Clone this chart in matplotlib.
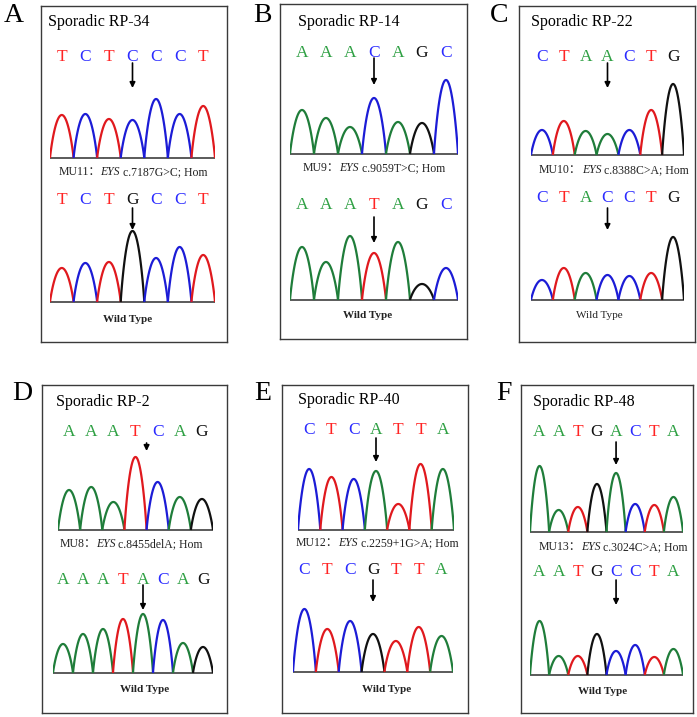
import numpy as np
import matplotlib.pyplot as plt
from matplotlib.offsetbox import TextArea, HPacker, AnnotationBbox

plt.rcParams['font.family'] = ['Liberation Serif', 'Noto Sans CJK SC']

# ---- data ----
panel_labels = ['A', 'B', 'C', 'D', 'E', 'F']
titles = ['Sporadic RP-34', 'Sporadic RP-14', 'Sporadic RP-22',
          'Sporadic RP-2', 'Sporadic RP-40', 'Sporadic RP-48']
mut_codes = ['MU11', 'MU9', 'MU10', 'MU8', 'MU12', 'MU13']
mut_changes = ['c.7187G>C; Hom', 'c.9059T>C; Hom', 'c.8388C>A; Hom',
               'c.8455delA; Hom', 'c.2259+1G>A; Hom', 'c.3024C>A; Hom']

# mutant traces (upper chromatogram)
mut_seqs = ['TCTCCCT', 'AAACAGC', 'CTAACTG', 'AAATCAG', 'CTCATTA', 'AATGACTA']
mut_heights = [
    [43, 44, 39, 38, 59, 44, 52],
    [44, 36, 27, 56, 32, 31, 74],
    [25, 34, 24, 21, 25, 45, 71],
    [40, 43, 28, 73, 48, 33, 31],
    [61, 53, 51, 59, 26, 66, 61],
    [66, 22, 25, 48, 59, 28, 27, 35],
]
mut_arrow = [3, 3, 3, 3.5, 3, 4]

# wild type traces (lower chromatogram)
wt_seqs = ['TCTGCCT', 'AAATAGC', 'CTACCTG', 'AAATACAG', 'CTCGTTA', 'AATGCCTA']
wt_heights = [
    [34, 39, 40, 71, 44, 55, 47],
    [53, 38, 64, 47, 58, 16, 32],
    [20, 32, 27, 25, 24, 27, 63],
    [29, 39, 44, 54, 59, 53, 30, 26],
    [63, 43, 51, 38, 31, 45, 36],
    [54, 19, 19, 41, 24, 30, 18, 26],
]
wt_arrow = [3, 3, 3, 4, 3, 4]
wt_bold = [True, True, False, True, True, True]

# ---- layout (pixels) ----
W, H = 697, 717
boxes = [(41, 6, 227, 342), (280, 4, 467, 339), (519, 6, 695, 342),
         (42, 385, 227, 713), (282, 385, 468, 713), (521, 385, 693, 713)]
label_xy = [(14, 16), (262, 15), (499, 15), (22, 394), (263, 394), (504, 394)]
title_xy = [(48, 22), (298, 22), (531, 22), (56, 402), (298, 400), (533, 402)]
mut_xy = [(133, 172), (374, 168), (614, 170), (131, 544), (377, 543), (613, 547)]
wt_xy = [(128, 319), (368, 315), (599, 315), (145, 689), (387, 689), (603, 692)]

top_geo = [(50, 215, 158, 57, 63, 88), (290, 458, 154, 53, 58, 85),
           (531, 684, 155, 57, 63, 88), (58, 213, 530, 432, 443, 451),
           (298, 454, 530, 430, 438, 462), (530, 683, 532, 432, 442, 465)]
bot_geo = [(50, 215, 302, 200, 208, 230), (290, 458, 300, 205, 217, 243),
           (531, 684, 300, 198, 208, 230), (53, 213, 673, 580, 585, 610),
           (293, 453, 672, 570, 580, 602), (530, 683, 675, 572, 580, 605)]

trace_col = {'A': '#1f7d3a', 'C': '#1c1cd6', 'G': '#111111', 'T': '#e0191e'}
text_col = {'A': '#2ea043', 'C': '#2b2bff', 'G': '#111111', 'T': '#ff2424'}


def fx(x):
    return x / W


def fy(y):
    return 1 - y / H


def chromatogram(fig, geo, seq, heights, arrow_at):
    x0, x1, base, let_y, ar_top, ar_bot = geo
    n = len(seq)
    top = let_y - 12
    ax = fig.add_axes([fx(x0), fy(base + 3), fx(x1) - fx(x0), fy(top) - fy(base + 3)])
    ax.set_xlim(-0.5, n - 0.5)
    ax.set_ylim(-3, base - top)
    ax.axis('off')
    ax.plot([-0.5, n - 0.5], [0, 0], color='#5a5a5a', lw=1.4, zorder=1)
    hw = 0.5
    for i, (b, h) in enumerate(zip(seq, heights)):
        xs = np.linspace(i - hw, i + hw, 80)
        ys = h * np.clip(1 - ((xs - i) / hw) ** 2, 0, None) ** 0.9
        ax.plot(xs, ys, color=trace_col[b], lw=1.6, zorder=2, solid_capstyle='butt')
        ax.text(i, base - let_y, b, color=text_col[b], fontsize=12.5,
                ha='center', va='center')
    ax.annotate('', xy=(arrow_at, base - ar_bot), xytext=(arrow_at, base - ar_top),
                arrowprops=dict(arrowstyle='-|>', color='k', lw=1.2,
                                mutation_scale=8, shrinkA=0, shrinkB=0))
    return ax


fig = plt.figure(figsize=(W / 100, H / 100), dpi=100)

for k in range(6):
    l, t, r, b = boxes[k]
    box = fig.add_axes([fx(l), fy(b), fx(r) - fx(l), fy(t) - fy(b)])
    box.set_xticks([])
    box.set_yticks([])
    for sp in box.spines.values():
        sp.set_color('#3a3a3a')
        sp.set_linewidth(1.0)

    fig.text(fx(label_xy[k][0]), fy(label_xy[k][1]), panel_labels[k],
             fontsize=20, ha='center', va='center')
    fig.text(fx(title_xy[k][0]), fy(title_xy[k][1]), titles[k],
             fontsize=11.5, ha='left', va='center')

    chromatogram(fig, top_geo[k], mut_seqs[k], mut_heights[k], mut_arrow[k])
    chromatogram(fig, bot_geo[k], wt_seqs[k], wt_heights[k], wt_arrow[k])

    tp = dict(fontsize=8.5, color='#222222')
    parts = [TextArea(mut_codes[k] + '：', textprops=tp),
             TextArea('EYS', textprops=dict(tp, style='italic')),
             TextArea(' ' + mut_changes[k], textprops=tp)]
    pack = HPacker(children=parts, align='baseline', pad=0, sep=0)
    ab = AnnotationBbox(pack, (fx(mut_xy[k][0]), fy(mut_xy[k][1])),
                        xycoords='figure fraction', frameon=False,
                        box_alignment=(0.5, 0.5), pad=0)
    fig.add_artist(ab)

    fig.text(fx(wt_xy[k][0]), fy(wt_xy[k][1]), 'Wild Type', fontsize=8,
             fontweight='bold' if wt_bold[k] else 'normal', color='#222222',
             ha='center', va='center')

fig.savefig('out.png', dpi=100)
